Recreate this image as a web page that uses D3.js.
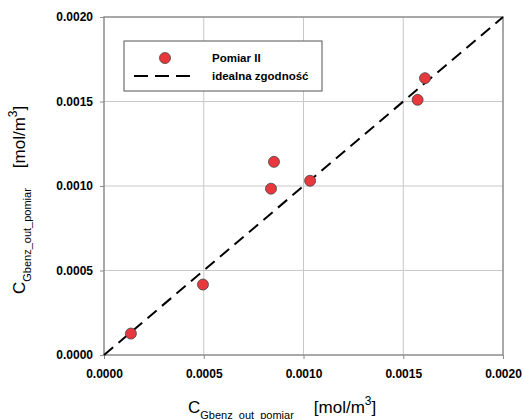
<!DOCTYPE html>
<meta charset="utf-8">
<script src="https://d3js.org/d3.v7.min.js"></script>
<style>
  body { margin: 0; background: #fff; }
  text { font-family: "Liberation Sans", Arial, sans-serif; }
  .tick text { font-size: 12px; font-weight: bold; fill: #000; }
</style>
<body></body>
<script>
  // measured points (x = C out pomiar, y = C out pomiar)
  var xVals = [0.000135, 0.000496, 0.000837, 0.000852, 0.001033, 0.001572, 0.001609];
  var yVals = [0.000127, 0.000417, 0.000984, 0.001143, 0.001031, 0.001510, 0.001638];
  var tickVals = [0, 0.0005, 0.0010, 0.0015, 0.0020];
  var idealLine = [0, 0.002];

  var margin = { top: 17, right: 20, bottom: 64, left: 104 };
  var W = 523, H = 419;
  var width = W - margin.left - margin.right,
      height = H - margin.top - margin.bottom;

  var svg = d3.select("body").append("svg")
    .attr("width", W).attr("height", H);
  var g = svg.append("g")
    .attr("transform", "translate(" + margin.left + "," + margin.top + ")");

  var x = d3.scaleLinear().domain([0, 0.002]).range([0, width]);
  var y = d3.scaleLinear().domain([0, 0.002]).range([height, 0]);

  // grid
  g.selectAll(".gx").data(tickVals.slice(1, -1)).enter().append("line")
    .attr("x1", d => x(d)).attr("x2", d => x(d))
    .attr("y1", 0).attr("y2", height)
    .attr("stroke", "#c8c8c8").attr("stroke-width", 1);
  g.selectAll(".gy").data(tickVals.slice(1, -1)).enter().append("line")
    .attr("y1", d => y(d)).attr("y2", d => y(d))
    .attr("x1", 0).attr("x2", width)
    .attr("stroke", "#c8c8c8").attr("stroke-width", 1);

  // frame
  g.append("rect").attr("width", width).attr("height", height)
    .attr("fill", "none").attr("stroke", "#8c8c8c").attr("stroke-width", 1.5);

  var xAxis = d3.axisBottom(x).tickValues(tickVals).tickFormat(d3.format(".4f"))
    .tickSize(4).tickPadding(10);
  var yAxis = d3.axisLeft(y).tickValues(tickVals).tickFormat(d3.format(".4f"))
    .tickSize(4).tickPadding(7);

  var xa = g.append("g").attr("transform", "translate(0," + height + ")").call(xAxis);
  var ya = g.append("g").call(yAxis);
  [xa, ya].forEach(a => {
    a.select(".domain").remove();
    a.selectAll(".tick line").attr("stroke", "#8c8c8c");
  });

  // ideal line
  g.append("line")
    .attr("x1", x(idealLine[0])).attr("y1", y(idealLine[0]))
    .attr("x2", x(idealLine[1])).attr("y2", y(idealLine[1]))
    .attr("stroke", "#000").attr("stroke-width", 2)
    .attr("stroke-dasharray", "12,7");

  // points
  g.selectAll(".pt").data(xVals).enter().append("circle")
    .attr("cx", d => x(d)).attr("cy", (d, i) => y(yVals[i]))
    .attr("r", 5.5)
    .attr("fill", "#e8383d").attr("stroke", "#444").attr("stroke-width", 0.8);

  // legend
  var lg = svg.append("g");
  lg.append("rect").attr("x", 124).attr("y", 41).attr("width", 198).attr("height", 50)
    .attr("fill", "#fff").attr("stroke", "#555").attr("stroke-width", 1);
  lg.append("circle").attr("cx", 165).attr("cy", 58).attr("r", 5.5)
    .attr("fill", "#e8383d").attr("stroke", "#444").attr("stroke-width", 0.8);
  lg.append("line").attr("x1", 134).attr("x2", 190).attr("y1", 76).attr("y2", 76)
    .attr("stroke", "#000").attr("stroke-width", 2).attr("stroke-dasharray", "14,7");
  lg.append("text").attr("x", 212).attr("y", 62).text("Pomiar II")
    .attr("font-size", "11.5px").attr("font-weight", "bold");
  lg.append("text").attr("x", 212).attr("y", 80).text("idealna zgodność")
    .attr("font-size", "11.5px").attr("font-weight", "bold");

  // axis titles
  function title(sel) {
    sel.append("tspan").attr("font-size", "17px").text("C");
    sel.append("tspan").attr("font-size", "11px").attr("dy", 6).text("Gbenz_out_pomiar");
    sel.append("tspan").attr("font-size", "17px").attr("dy", -6).attr("dx", 20).text("[mol/m");
    sel.append("tspan").attr("font-size", "12px").attr("dy", -8).text("3");
    sel.append("tspan").attr("font-size", "17px").attr("dy", 8).text("]");
  }
  svg.append("text").attr("x", 188).attr("y", 413).call(title);
  svg.append("text").attr("transform", "translate(25,294) rotate(-90)").call(title);
</script>
